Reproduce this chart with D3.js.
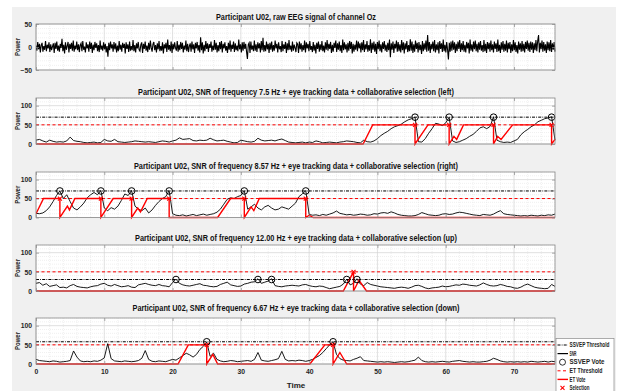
<!DOCTYPE html>
<html><head><meta charset="utf-8">
<script src="https://cdn.jsdelivr.net/npm/d3@7"></script>
<style>
html,body{margin:0;padding:0;background:#fff;}
svg text{font-family:"Liberation Sans",Arial,sans-serif;}
</style></head><body>
<svg id="c" width="620" height="391"></svg>
<script>
// ---------------- data ----------------
const timeStep = 0.5;
const xMax = 76;
const xTicks = [0,10,20,30,40,50,60,70];
const eegTicks = [-50,0,50];
const snrTicks = [0,50,100];
const titles = [
  "Participant U02, raw EEG signal of channel Oz",
  "Participant U02, SNR of frequency 7.5 Hz + eye tracking data + collaborative selection (left)",
  "Participant U02, SNR of frequency 8.57 Hz + eye tracking data + collaborative selection (right)",
  "Participant U02, SNR of frequency 12.00 Hz + eye tracking data + collaborative selection (up)",
  "Participant U02, SNR of frequency 6.67 Hz + eye tracking data + collaborative selection (down)"
];
const legendLabels = ["SSVEP Threshold","SNR","SSVEP Vote","ET Threshold","ET Vote","Selection"];

const eegSignal = [
3,-8,11,-5,7,-12,4,9,-10,2,-6,13,-9,5,-3,10,-11,6,-7,1,8,-13,9,-4,12,-8,3,-10,7,-2,
18,-9,5,-14,10,-6,2,11,-12,7,-4,9,-8,14,-10,3,-5,12,-7,6,-11,4,8,-9,13,-6,1,-12,10,-3,
6,-10,12,-4,9,-13,5,-7,11,-2,8,-9,4,-11,14,-6,3,-8,10,-5,7,-12,2,-21,9,-7,12,-3,6,-10,
11,-5,8,-12,3,-9,13,-6,5,-10,9,-2,7,-14,10,-4,6,-11,12,-8,2,-7,15,-9,4,-12,8,-3,11,-6,
-9,5,10,-13,7,-4,12,-8,3,-11,9,-6,14,-2,-10,6,11,-7,4,-12,8,-5,13,-9,2,-8,10,-14,6,-3,
9,-11,16,-6,4,-9,12,-13,7,-5,10,-2,-8,13,-10,5,-7,11,-4,9,-12,3,-6,14,-9,7,-11,2,8,-10,
12,-5,6,-13,9,-3,11,-8,4,-12,21,-7,10,-14,5,-9,13,-4,8,-11,6,-2,12,-10,3,-7,15,-6,9,-12,
4,-9,11,-5,13,-12,7,-3,10,-8,2,-13,9,-6,14,-10,5,-4,12,-11,8,-7,3,-9,16,-5,6,-12,10,-8,
11,-4,7,-10,-26,5,9,-13,12,-6,3,-9,14,-8,6,-11,10,-3,8,-12,13,-7,20,-10,4,-9,12,-5,7,-13,
9,-6,12,-10,4,-8,14,-3,7,-12,10,-5,2,-11,13,-9,6,-4,11,-13,8,-7,15,-6,3,-10,12,-8,5,-2,
-11,9,6,-13,12,-5,8,-10,4,-7,14,-12,10,-3,7,-9,13,-6,2,-11,11,-8,5,-14,9,-4,12,-10,6,-7,
13,-9,3,-12,10,-6,15,-8,7,-4,11,-13,5,-10,9,-2,14,-11,8,-6,12,-9,4,-13,16,-7,10,-5,6,-12,
9,-8,13,-4,11,-14,7,-10,5,-6,14,-9,12,-3,8,-12,10,-7,15,-11,6,-5,13,-10,4,-8,17,-13,9,-6,
12,-10,7,-15,11,-5,14,-9,6,-12,10,-4,13,-8,5,-11,9,-7,16,-22,8,-6,12,-13,7,-3,14,-10,11,-9,
6,-12,15,-7,10,-14,8,-5,13,-11,4,-9,17,-8,12,-13,6,-10,14,-4,9,-12,11,-7,5,-15,13,-9,8,-6,
14,-10,26,-8,11,-13,7,-5,12,-9,15,-12,6,-7,10,-14,13,-4,8,-11,16,-9,5,-12,11,-6,-27,9,-10,12,
-8,14,-6,10,-13,7,-9,12,-4,15,-11,8,-7,13,-10,5,-12,11,-3,9,-14,16,-8,6,-10,12,-5,14,-9,7,
-12,10,-6,13,-8,4,-11,15,-9,7,-13,11,-5,9,-10,14,-7,6,-12,12,-4,8,-11,16,-9,5,-13,10,-6,13,
-10,7,-8,14,-12,9,-5,11,-13,6,-9,15,-7,10,-11,4,-14,12,-6,8,-10,13,-9,7,-12,11,-4,14,-8,9,
-11,12,-6,10,-13,8,-7,15,-9,13,26,-12,9,-5,14,-10,11,-8,6,-13,12,-7,10,-9,15,-11,8,-6,11,-10
];

// SNR series, one sample every 0.5 s from 0 to 76 s
const snrLeft = [
10,12,8,5,10,7,5,6,5,8,18,9,7,6,4,3,4,5,3,4,12,
8,7,12,6,5,4,5,6,8,7,6,5,6,5,4,6,8,7,5,8,
10,16,12,13,14,9,8,10,9,10,15,11,8,9,10,7,5,3,4,10,
8,6,5,7,15,10,8,9,10,8,11,13,9,5,4,3,4,5,3,5,
4,8,6,3,4,5,4,3,5,6,8,7,6,4,3,10,6,5,8,14,
22,28,33,40,45,48,52,58,63,66,70,6,5,14,28,40,54,52,48,55,70,8,4,6,10,14,20,25,33,42,45,40,46,71,10,6,4,5,4,8,12,24,32,38,45,50,58,62,66,68,71,10
];
const snrRight = [
11,10,12,18,28,42,58,70,
50,60,42,25,20,28,38,52,60,66,60,71,
25,18,26,22,30,45,62,58,71,
30,22,18,25,12,20,32,42,50,55,71,
10,6,5,7,4,6,8,5,7,9,6,8,10,14,
22,35,48,52,50,55,58,71,
22,28,35,25,20,28,32,25,20,22,28,25,22,30,38,55,62,71,
8,6,7,5,8,6,9,12,17,11,
9,7,8,6,7,9,8,6,7,10,
9,12,13,11,15,12,8,6,5,4,
4,5,8,13,10,7,6,5,6,9,
10,8,9,12,14,13,11,9,7,6,
5,8,7,6,9,14,18,10,8,7,
6,5,4,5,4,6,5,4,6,5,
7,6,9
];
const snrUp = [
20,22,15,19,12,14,16,9,10,8,14,17,12,10,9,8,11,13,14,18,
20,15,13,17,14,11,12,14,10,9,16,18,20,17,15,14,17,14,13,11,
22,31,20,16,14,13,15,17,19,15,14,12,11,12,17,20,23,16,14,12,
13,18,20,23,24,32,20,23,26,32,14,12,11,13,14,15,14,13,16,17,
14,12,11,13,12,9,6,8,10,12,18,31,16,20,32,18,14,22,17,15,
13,11,10,9,8,7,9,10,9,7,10,14,15,12,8,6,8,9,10,13,
11,12,14,16,15,18,17,15,14,13,16,21,17,14,13,14,17,15,12,11,
8,7,10,15,18,14,10,8,7,6,7,17,12
];
const snrDown = [
12,9,8,7,6,8,7,5,6,7,9,34,18,8,6,7,6,8,7,10,
16,53,14,8,7,6,8,7,6,7,9,15,35,12,7,6,8,7,6,9,
12,10,16,22,28,24,18,25,38,46,57,20,28,12,8,6,7,9,8,6,
7,8,9,7,12,30,10,8,7,9,11,14,33,12,8,9,8,10,9,7,
9,12,17,22,30,40,50,58,25,14,10,9,8,12,15,19,9,8,7,6,
5,6,5,6,5,4,5,6,5,6,8,10,18,9,6,5,6,5,6,7,
6,5,7,8,9,7,6,5,6,5,5,6,7,10,15,12,8,6,5,6,
5,6,5,6,5,7,6,5,6,7,5,7,6
];

// thresholds
const ssvepThresholds = [70, 70, 30, 58];
const etThreshold = 50;

// eye-tracking vote (breakpoints: time, value)
const etLeftT  = [0,47.9,49.3,55.5,55.5,57.4,60.5,60.5,61.2,61.6,62.6,67,67,67.6,68.1,69.8,75.5,75.5,76];
const etLeftV  = [0,0,50,50,0,50,50,0,20,12,50,50,0,20,12,50,50,0,12];
const etRightT = [0,1.1,3.5,3.5,4.6,4.9,5.7,9.5,9.5,11.3,14,14,14.9,15.3,16.3,19.5,19.5,20.5,26.6,28.5,30.5,30.5,31.5,31.9,32.7,39.5,39.5,40,40.6,76];
const etRightV = [10,50,50,0,30,20,50,50,0,50,50,0,25,15,50,50,0,0,0,50,50,0,28,18,50,50,0,6,0,0];
const etUpT    = [0,45,46.5,46.5,47.3,48.4,76];
const etUpV    = [0,0,50,0,28,0,0];
const etDownT  = [0,20.8,22.3,25,25,25.9,26.6,40.1,42.3,43.5,43.5,44.5,45.5,76];
const etDownV  = [0,0,50,50,0,25,0,0,50,50,0,30,0,0];

// SSVEP votes (circles) and selections (crosses)
const voteLeft = [55.5,60.5,67,75.5];
const voteRight = [3.5,9.5,14,19.5,30.5,39.5];
const voteUp = [20.5,32.5,34.5,45.5,47];
const voteDown = [25,43.5];
const selLeft = [55.5,60.5,67,75.5];
const selRight = [3.5,9.5,14,19.5,30.5,39.5];
const selUp = [46.5];
const selDown = [25,43.5];

// ---------------- drawing ----------------
const svg = d3.select('#c');
svg.append('rect').attr('x',12).attr('y',7).attr('width',604).attr('height',384).attr('fill','#f0f0f0');

const x = d3.scaleLinear().domain([0,xMax]).range([36,555]);
const titleLens = [160,316,324,322,327];
const titleBase = [19.5,94.5,168.5,240.5,310.5];
const panelY = [[24,70],[98,144],[172,217.5],[245,291],[318,364]];

function frame(i, y, ticks, minorStep, yDom){
  const g = svg.append('g');
  const [top,bot] = panelY[i];
  g.append('rect').attr('x',36).attr('y',top).attr('width',519).attr('height',bot-top).attr('fill','#fff');
  const mx = d3.range(0, xMax+0.01, 2).filter(v=>v%10!==0);
  g.selectAll('.mx').data(mx).join('line')
    .attr('x1',d=>x(d)).attr('x2',d=>x(d)).attr('y1',top).attr('y2',bot)
    .attr('stroke','#e6e6e6').attr('stroke-width',0.6).attr('stroke-dasharray','1,1');
  const my = d3.range(yDom[0], yDom[1]+0.01, minorStep).filter(v=>!ticks.includes(v));
  g.selectAll('.my').data(my).join('line')
    .attr('x1',36).attr('x2',555).attr('y1',d=>y(d)).attr('y2',d=>y(d))
    .attr('stroke','#e6e6e6').attr('stroke-width',0.6).attr('stroke-dasharray','1,1');
  g.selectAll('.gx').data(xTicks).join('line')
    .attr('x1',d=>x(d)).attr('x2',d=>x(d)).attr('y1',top).attr('y2',bot)
    .attr('stroke','#d4d4d4').attr('stroke-width',0.7);
  g.selectAll('.gy').data(ticks).join('line')
    .attr('x1',36).attr('x2',555).attr('y1',d=>y(d)).attr('y2',d=>y(d))
    .attr('stroke','#d4d4d4').attr('stroke-width',0.7);
  svg.append('text').attr('x',296).attr('y',titleBase[i]).attr('text-anchor','middle')
    .attr('font-size',9.5).attr('font-weight','bold').attr('fill','#111')
    .attr('textLength',titleLens[i]).attr('lengthAdjust','spacingAndGlyphs').text(titles[i]);
  svg.append('text').attr('transform',`translate(20,${(top+bot)/2}) rotate(-90)`)
    .attr('text-anchor','middle').attr('font-size',8).attr('font-weight','bold').attr('fill','#222')
    .attr('textLength',18).attr('lengthAdjust','spacingAndGlyphs').text('Power');
  return g;
}

function finishAxes(i, y, ticks, showX){
  const [top,bot] = panelY[i];
  const ax = svg.append('g');
  const style = s => {
    s.select('.domain').remove();
    s.selectAll('line').attr('stroke','#8a8a8a').attr('stroke-width',0.7);
    s.selectAll('text').attr('font-size',6.8).attr('font-weight','bold').attr('fill','#262626')
      .style('font-family','"Liberation Sans",Arial,sans-serif');
  };
  ax.append('g').attr('transform',`translate(0,${bot})`)
    .call(d3.axisBottom(x).tickValues(xTicks).tickSizeInner(-3).tickSizeOuter(0).tickPadding(5)
      .tickFormat(showX ? d3.format('d') : () => '')).call(style);
  ax.append('g').attr('transform',`translate(0,${top})`)
    .call(d3.axisTop(x).tickValues(xTicks).tickSizeInner(-3).tickSizeOuter(0).tickFormat(()=>'')).call(style);
  ax.append('g').attr('transform','translate(36,0)')
    .call(d3.axisLeft(y).tickValues(ticks).tickSizeInner(-3).tickSizeOuter(0).tickPadding(4)).call(style);
  ax.append('g').attr('transform','translate(555,0)')
    .call(d3.axisRight(y).tickValues(ticks).tickSizeInner(-3).tickSizeOuter(0).tickFormat(()=>'')).call(style);
  ax.append('rect').attr('x',36).attr('y',top).attr('width',519).attr('height',bot-top)
    .attr('fill','none').attr('stroke','#8a8a8a').attr('stroke-width',0.8);
}

const defs = svg.append('defs');
panelY.forEach(([t,b],i)=>{
  defs.append('clipPath').attr('id','cp'+i).append('rect')
    .attr('x',36).attr('y',t-6).attr('width',519+4).attr('height',b-t+8);
});

// ---- panel 0: raw EEG
{
  const [top,bot] = panelY[0];
  const y = d3.scaleLinear().domain([-50,50]).range([bot,top]);
  frame(0, y, eegTicks, 10, [-50,50]);
  const xe = d3.scaleLinear().domain([0, eegSignal.length-1]).range([36,555]);
  svg.append('path').attr('clip-path','url(#cp0)')
    .attr('d', d3.line().x((d,i)=>xe(i)).y(d=>y(d))(eegSignal))
    .attr('fill','none').attr('stroke','#000').attr('stroke-width',1.1);
  finishAxes(0, y, eegTicks, false);
}

// ---- SNR panels
const snrPanels = [
  {snr:snrLeft,  etT:etLeftT,  etV:etLeftV,  votes:voteLeft,  sels:selLeft,  thr:ssvepThresholds[0]},
  {snr:snrRight, etT:etRightT, etV:etRightV, votes:voteRight, sels:selRight, thr:ssvepThresholds[1]},
  {snr:snrUp,    etT:etUpT,    etV:etUpV,    votes:voteUp,    sels:selUp,    thr:ssvepThresholds[2]},
  {snr:snrDown,  etT:etDownT,  etV:etDownV,  votes:voteDown,  sels:selDown,  thr:ssvepThresholds[3]}
];
snrPanels.forEach((p,k)=>{
  const i = k+1;
  const [top,bot] = panelY[i];
  const y = d3.scaleLinear().domain([0,120]).range([bot,top]);
  frame(i, y, snrTicks, 10, [0,120]);
  const g = svg.append('g').attr('clip-path',`url(#cp${i})`);
  g.append('line').attr('x1',36).attr('x2',555).attr('y1',y(p.thr)).attr('y2',y(p.thr))
    .attr('stroke','#000').attr('stroke-width',1).attr('stroke-dasharray','3,1.2,0.8,1.2');
  g.append('line').attr('x1',36).attr('x2',555).attr('y1',y(etThreshold)).attr('y2',y(etThreshold))
    .attr('stroke','#ff0000').attr('stroke-width',1).attr('stroke-dasharray','3,2.5');
  g.append('path').attr('d', d3.line().x((d,j)=>x(j*timeStep)).y(d=>y(d))(p.snr))
    .attr('fill','none').attr('stroke','#000').attr('stroke-width',0.9);
  const et = p.etT.map((t,j)=>[t,p.etV[j]]);
  g.append('path').attr('d', d3.line().x(d=>x(d[0])).y(d=>y(d[1]))(et))
    .attr('fill','none').attr('stroke','#ff0000').attr('stroke-width',1.4);
  g.selectAll('.v').data(p.votes).join('circle')
    .attr('cx',d=>x(d)).attr('cy',y(p.thr)).attr('r',3.3)
    .attr('fill','none').attr('stroke','#000').attr('stroke-width',1);
  const cs = 2;
  p.sels.forEach(t=>{
    const cx = x(t), cy = y(etThreshold);
    g.append('path').attr('d',`M${cx-cs},${cy-cs}L${cx+cs},${cy+cs}M${cx-cs},${cy+cs}L${cx+cs},${cy-cs}`)
      .attr('stroke','#ff0000').attr('stroke-width',1.1);
  });
  finishAxes(i, y, snrTicks, i===4);
});

svg.append('text').attr('x',296).attr('y',388).attr('text-anchor','middle')
  .attr('font-size',8).attr('font-weight','bold').attr('fill','#222').text('Time');

// ---- legend
{
  const lg = svg.append('g');
  lg.append('rect').attr('x',556).attr('y',338.5).attr('width',58).attr('height',60)
    .attr('fill','#fff').attr('stroke','#8a8a8a').attr('stroke-width',0.7);
  const rows = [345,353.6,362.2,370.8,379.4,387.8];
  const tl = [40,7,35,33,16,20];
  legendLabels.forEach((lab,j)=>{
    const yy = rows[j];
    if(j===0) lg.append('line').attr('x1',557.5).attr('x2',568).attr('y1',yy).attr('y2',yy)
      .attr('stroke','#000').attr('stroke-width',1).attr('stroke-dasharray','3,1.2,0.8,1.2');
    if(j===1) lg.append('line').attr('x1',557.5).attr('x2',568).attr('y1',yy).attr('y2',yy)
      .attr('stroke','#000').attr('stroke-width',1.2);
    if(j===2) lg.append('circle').attr('cx',562.5).attr('cy',yy).attr('r',3)
      .attr('fill','none').attr('stroke','#000').attr('stroke-width',0.8);
    if(j===3) lg.append('line').attr('x1',557.5).attr('x2',568).attr('y1',yy).attr('y2',yy)
      .attr('stroke','#ff0000').attr('stroke-width',1).attr('stroke-dasharray','3,2.5');
    if(j===4) lg.append('line').attr('x1',557.5).attr('x2',568).attr('y1',yy).attr('y2',yy)
      .attr('stroke','#ff0000').attr('stroke-width',1.4);
    if(j===5) lg.append('path').attr('d',`M560.5,${yy-2}L564.5,${yy+2}M560.5,${yy+2}L564.5,${yy-2}`)
      .attr('stroke','#ff0000').attr('stroke-width',1.1);
    const t = lg.append('text').attr('x',0).attr('y',0).attr('font-size',6.3).attr('font-weight','bold')
      .attr('fill','#222').text(lab);
    const w = t.node().getComputedTextLength();
    const sx = Math.min(1, tl[j]/w);
    t.attr('transform',`translate(569.5,${yy+2.2}) scale(${sx},1)`);
  });
}
</script>
</body></html>
